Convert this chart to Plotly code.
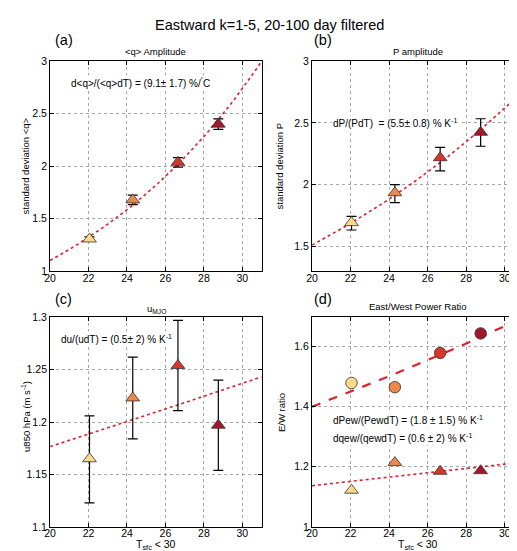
import numpy as np
import plotly.graph_objects as go

# ---------------- data ----------------
sst = [22.05, 24.3, 26.65, 28.75]
colors = ["#F9DA86", "#EE874A", "#D5372A", "#A3172B"]

# (a) <q> amplitude
q_amp = [1.305, 1.678, 2.036, 2.40]
q_err = [0.02, 0.045, 0.045, 0.05]
q_fit_a0, q_fit_rate = 1.10, 0.0912

# (b) P amplitude
p_amp = [1.692, 1.934, 2.218, 2.424]
p_err_plus = [0.05, 0.066, 0.084, 0.11]
p_err_minus = [0.06, 0.08, 0.106, 0.113]
p_fit_a0, p_fit_rate = 1.51, 0.0551

# (c) u_MJO
u_amp = [1.165, 1.223, 1.254, 1.197]
u_err_plus = [0.041, 0.039, 0.043, 0.043]
u_err_minus = [0.042, 0.039, 0.043, 0.043]
u_fit_a0, u_fit_rate = 1.1766, 0.0050

# (d) East/West power ratio
pew = [1.479, 1.465, 1.579, 1.644]
qew = [1.122, 1.214, 1.185, 1.187]
pew_fit_a0, pew_fit_rate = 1.40, 0.0175
qew_fit_a0, qew_fit_rate = 1.137, 0.0061

x_ticks = [20, 22, 24, 26, 28, 30]
fit_x = np.linspace(20, 31, 60)

FONT = "Liberation Sans, Arial, Helvetica, sans-serif"
FITRED = "#E0202F"
EDGE = "#333333"

fig = go.Figure()


def add_fit(xa, ya, a0, rate, dash, width):
    fig.add_trace(go.Scatter(x=fit_x, y=a0 * np.exp(rate * (fit_x - 20)), mode="lines",
                             line=dict(color=FITRED, dash=dash, width=width),
                             xaxis=xa, yaxis=ya, showlegend=False, hoverinfo="skip"))


def add_pts(xa, ya, y, ep=None, em=None, symbol="triangle-up", size=12):
    err = None
    if ep is not None:
        err = dict(type="data", symmetric=False, array=ep, arrayminus=em,
                   color="black", thickness=1.2, width=5)
    fig.add_trace(go.Scatter(x=sst, y=y, mode="markers", error_y=err,
                             marker=dict(symbol=symbol, size=size, color=colors,
                                         line=dict(color=EDGE, width=0.8)),
                             xaxis=xa, yaxis=ya, showlegend=False))


# (a)
add_fit("x", "y", q_fit_a0, q_fit_rate, "dot", 1.6)
add_pts("x", "y", q_amp, q_err, q_err)
# (b)
add_fit("x2", "y2", p_fit_a0, p_fit_rate, "dot", 1.6)
add_pts("x2", "y2", p_amp, p_err_plus, p_err_minus)
# (c)
add_fit("x3", "y3", u_fit_a0, u_fit_rate, "dot", 1.6)
add_pts("x3", "y3", u_amp, u_err_plus, u_err_minus)
# (d)
add_fit("x4", "y4", pew_fit_a0, pew_fit_rate, "dash", 2.2)
add_fit("x4", "y4", qew_fit_a0, qew_fit_rate, "dot", 1.6)
add_pts("x4", "y4", pew, symbol="circle", size=11.5)
add_pts("x4", "y4", qew, symbol="triangle-up", size=12)

W, H = 517, 551


def px_x(p):
    return p / W


def px_y(p):
    return 1 - p / H


ax_common = dict(showline=True, linecolor="black", linewidth=1, mirror="ticks",
                 ticks="inside", ticklen=4, tickcolor="black",
                 showgrid=True, gridcolor="#a8a8a8", griddash="dot", gridwidth=1,
                 zeroline=False, tickfont=dict(family=FONT, size=10.5, color="black"))

xdom_left = [px_x(36.5), px_x(250.5)]
xdom_right = [px_x(301.5), px_x(516)]
ydom_top = [px_y(262.7), px_y(48.3)]
ydom_bot = [px_y(524.3), px_y(310)]

xcommon = dict(ax_common, range=[20, 31], tickvals=x_ticks, ticklabelstandoff=-3)

layout = dict(
    width=W, height=H, paper_bgcolor="white", plot_bgcolor="white",
    margin=dict(l=0, r=0, t=0, b=0),
    font=dict(family=FONT, color="black"),
    xaxis=dict(xcommon, domain=xdom_left, anchor="y"),
    yaxis=dict(ax_common, domain=ydom_top, anchor="x", range=[1, 3],
               tickvals=[1, 1.5, 2, 2.5, 3], ticktext=["1", "1.5", "2", "2.5", "3"]),
    xaxis2=dict(xcommon, domain=xdom_right, anchor="y2"),
    yaxis2=dict(ax_common, domain=ydom_top, anchor="x2", range=[1.3, 3],
                tickvals=[1.5, 2, 2.5, 3], ticktext=["1.5", "2", "2.5", "3"]),
    xaxis3=dict(xcommon, domain=xdom_left, anchor="y3"),
    yaxis3=dict(ax_common, domain=ydom_bot, anchor="x3", range=[1.1, 1.3],
                tickvals=[1.1, 1.15, 1.2, 1.25, 1.3],
                ticktext=["1.1", "1.15", "1.2", "1.25", "1.3"]),
    xaxis4=dict(xcommon, domain=xdom_right, anchor="y4"),
    yaxis4=dict(ax_common, domain=[px_y(524.3), px_y(309.3)], anchor="x4", range=[1, 1.7],
                tickvals=[1, 1.2, 1.4, 1.6], ticktext=["1", "1.2", "1.4", "1.6"]),
)
fig.update_layout(**layout)

ann = []
# main title
ann.append(dict(text="Eastward k=1-5, 20-100 day filtered", x=px_x(258), y=px_y(11),
                xref="paper", yref="paper", showarrow=False, font=dict(size=14.5),
                xanchor="center", yanchor="middle"))
# panel labels
for lab, xp, yp in [("(a)", 39, 27), ("(b)", 301, 27), ("(c)", 39, 291), ("(d)", 301, 291)]:
    ann.append(dict(text=lab, x=px_x(xp), y=px_y(yp), xref="paper", yref="paper",
                    showarrow=False, font=dict(size=14.5), xanchor="left", yanchor="middle"))
# subplot titles
for lab, xp, yp in [("&lt;q&gt; Amplitude", 143.5, 38), ("P amplitude", 409, 38),
                    ("u<sub>MJO</sub>", 144, 302), ("East/West Power Ratio", 409, 299)]:
    ann.append(dict(text=lab, x=px_x(xp), y=px_y(yp), xref="paper", yref="paper",
                    showarrow=False, font=dict(size=9.5), xanchor="center", yanchor="middle"))
# axis titles (y, rotated)
for lab, xp, yp in [("standard deviation &lt;q&gt;", 12, 155), ("standard deviation P", 269, 155),
                    ("u850 hPa (m s<sup>-1</sup>)", 12, 411), ("E/W ratio", 270, 407)]:
    ann.append(dict(text=lab, x=px_x(xp), y=px_y(yp), xref="paper", yref="paper",
                    showarrow=False, font=dict(size=9.5), textangle=-90,
                    xanchor="center", yanchor="middle"))
# axis titles (x)
for xp in [144, 409]:
    ann.append(dict(text="T<sub>sfc</sub> &lt; 30", x=px_x(xp), y=px_y(542.5), xref="paper",
                    yref="paper", showarrow=False, font=dict(size=10.5),
                    xanchor="center", yanchor="middle"))
# in-panel texts
for lab, xa, ya, xv, yv in [
    ("d&lt;q&gt;/(&lt;q&gt;dT) = (9.1± 1.7) %/<sup>˚</sup>C", "x", "y", 21.0, 2.79),
    ("dP/(PdT)  = (5.5± 0.8) % K<sup>-1</sup>", "x2", "y2", 21.0, 2.5),
    ("du/(udT) = (0.5± 2) % K<sup>-1</sup>", "x3", "y3", 20.45, 1.279),
    ("dPew/(PewdT) = (1.8 ± 1.5) % K<sup>-1</sup>", "x4", "y4", 21.0, 1.356),
    ("dqew/(qewdT) = (0.6 ± 2) % K<sup>-1</sup>", "x4", "y4", 21.0, 1.296),
]:
    ann.append(dict(text=lab, x=xv, y=yv, xref=xa, yref=ya, showarrow=False,
                    font=dict(size=10), xanchor="left", yanchor="middle", bgcolor="white"))
fig.update_layout(annotations=ann)

fig.write_html("out.html")
